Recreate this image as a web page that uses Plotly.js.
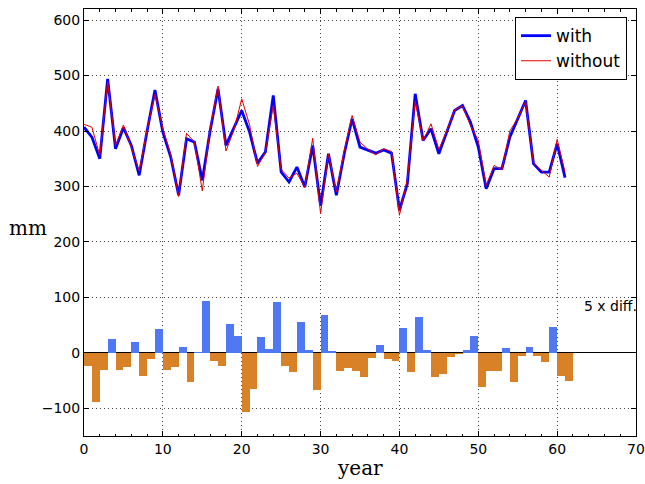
<!DOCTYPE html>
<html>
<head>
<meta charset="utf-8">
<script src="https://cdn.plot.ly/plotly-3.0.1.min.js"></script>
<style>html,body{margin:0;padding:0;background:#fff;}#chart{width:645px;height:484px;}</style>
</head>
<body>
<div id="chart"></div>
<script>
var years = [];
for (var i = 0; i <= 61; i++) years.push(i);

var withVals = [407, 389, 350, 494, 368, 406, 374, 320, 400, 474,
                398, 353, 284, 386, 380, 311, 401, 476, 374, 407,
                437, 398, 342, 362, 464, 326, 308, 335, 299, 374,
                265, 359, 284, 359, 422, 371, 365, 360, 366, 360,
                257, 305, 467, 383, 404, 359, 398, 437, 446, 416,
                371, 296, 332, 332, 389, 422, 455, 341, 326, 326,
                377, 316];

var withoutVals = [412, 407, 356, 489, 374, 411, 370, 328, 402, 466,
                   404, 358, 282, 396, 380, 292, 404, 481, 364, 401,
                   458, 411, 336, 361, 446, 331, 315, 324, 298, 387,
                   251, 358, 290, 364, 428, 380, 367, 357, 368, 363,
                   248, 312, 454, 382, 413, 367, 400, 438, 445, 410,
                   383, 302, 338, 330, 400, 423, 453, 342, 329, 317,
                   385, 326];

var diff5 = [-23, -89, -31, 25, -31, -25, 20, -41, -11, 43,
             -31, -25, 11, -52, 2, 94, -14, -23, 52, 31,
             -106, -66, 29, 7, 92, -23, -34, 56, 5, -67,
             68, 4, -32, -27, -32, -44, -9, 14, -12, -14,
             45, -34, 65, 5, -43, -39, -8, -3, 5, 31,
             -61, -32, -32, 9, -53, -5, 11, -5, -17, 47,
             -41, -50];

var posColor = '#5078f5';
var negColor = '#d98126';
var barColors = diff5.map(function (v) { return v >= 0 ? posColor : negColor; });

var traces = [
  {
    type: 'bar', x: years, y: diff5, width: 1, offset: 0,
    marker: {color: barColors, line: {width: 0}},
    showlegend: false, hoverinfo: 'skip'
  },
  {
    type: 'scatter', mode: 'lines', x: years, y: withVals, name: 'with',
    line: {color: '#0000ff', width: 2.8}
  },
  {
    type: 'scatter', mode: 'lines', x: years, y: withoutVals, name: 'without',
    line: {color: '#e00000', width: 1}
  }
];

var axisCommon = {
  showline: true, linecolor: '#000', linewidth: 1, mirror: 'ticks',
  ticks: 'inside', ticklen: 5, tickwidth: 1, tickcolor: '#000',
  showgrid: true, gridcolor: '#444', gridwidth: 1, griddash: '1px,3px',
  tickfont: {family: 'DejaVu Sans', size: 14, color: '#000'}
};

var layout = {
  width: 645, height: 484,
  margin: {l: 84, r: 9, t: 9, b: 48},
  paper_bgcolor: '#fff', plot_bgcolor: '#fff',
  bargap: 0,
  xaxis: Object.assign({}, axisCommon, {
    range: [0, 70], dtick: 10, tick0: 0, zeroline: false,
    minor: {dtick: 2, ticks: 'inside', ticklen: 2.5, tickcolor: '#000', showgrid: false}
  }),
  yaxis: Object.assign({}, axisCommon, {
    range: [-150, 620], dtick: 100, tick0: 0,
    zeroline: true, zerolinecolor: '#000', zerolinewidth: 1
  }),
  legend: {
    x: 0.9837, y: 0.981, xanchor: 'right', yanchor: 'top',
    bgcolor: '#fff', bordercolor: '#000', borderwidth: 1,
    font: {family: 'DejaVu Sans', size: 17, color: '#000'}
  },
  annotations: [
    {text: 'year', xref: 'paper', yref: 'paper', x: 0.5, y: -0.075,
     xanchor: 'center', yanchor: 'middle', showarrow: false,
     font: {family: 'DejaVu Serif', size: 20, color: '#000'}},
    {text: 'mm', xref: 'paper', yref: 'paper', x: -0.1014, y: 0.487,
     xanchor: 'center', yanchor: 'middle', showarrow: false,
     font: {family: 'DejaVu Serif', size: 20, color: '#000'}},
    {text: '5 x diff.', xref: 'x', yref: 'y', x: 63.1, y: 85,
     xanchor: 'left', yanchor: 'middle', showarrow: false,
     font: {family: 'DejaVu Sans', size: 14, color: '#000'}}
  ]
};

Plotly.newPlot('chart', traces, layout, {displayModeBar: false, staticPlot: true});
</script>
</body>
</html>
